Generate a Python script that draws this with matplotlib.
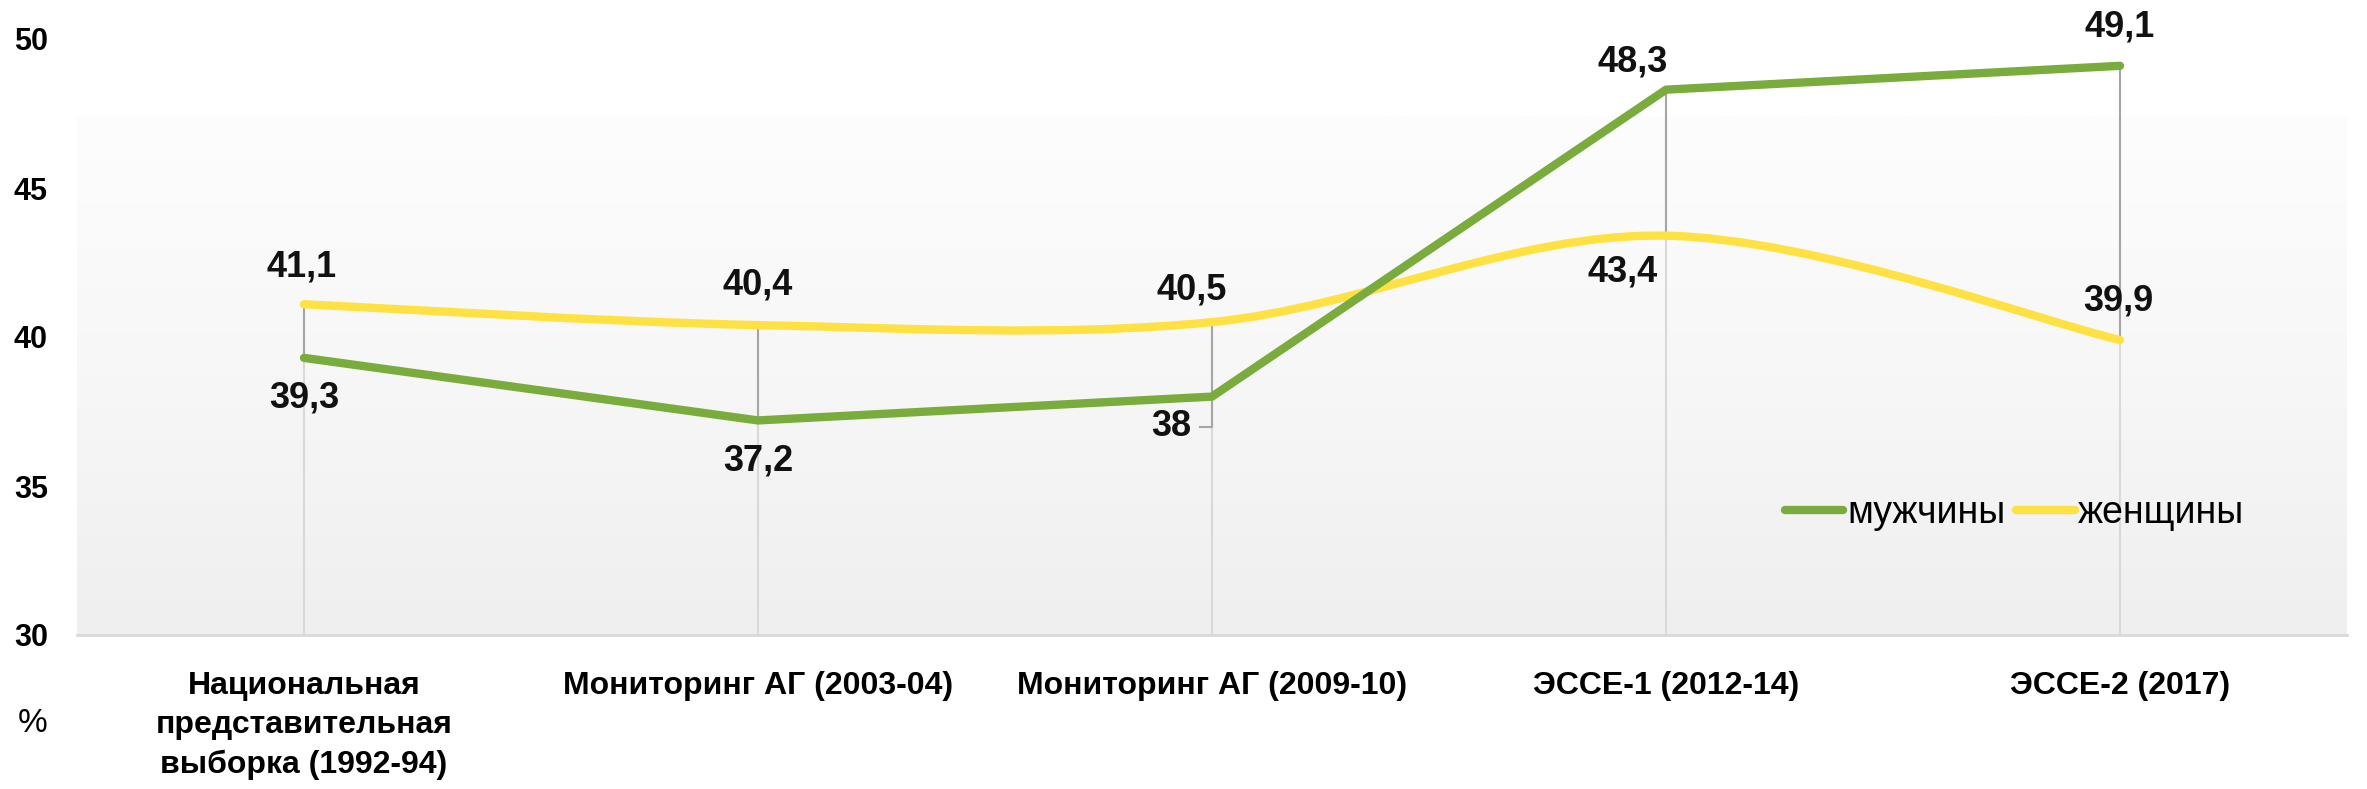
import numpy as np
import matplotlib
matplotlib.use("Agg")
import matplotlib.pyplot as plt
from matplotlib.path import Path
from matplotlib.patches import PathPatch
from matplotlib.lines import Line2D
from matplotlib.colors import LinearSegmentedColormap

plt.rcParams['font.family'] = ['Liberation Sans', 'DejaVu Sans']

# ---- data ----
categories = ["Национальная\nпредставительная\nвыборка (1992-94)",
              "Мониторинг АГ (2003-04)",
              "Мониторинг АГ (2009-10)",
              "ЭССЕ-1 (2012-14)",
              "ЭССЕ-2 (2017)"]
men = [39.3, 37.2, 38.0, 48.3, 49.1]
women = [41.1, 40.4, 40.5, 43.4, 39.9]
men_labels = ["39,3", "37,2", "38", "48,3", "49,1"]
women_labels = ["41,1", "40,4", "40,5", "43,4", "39,9"]
series_names = ["мужчины", "женщины"]
yticks = [30, 35, 40, 45, 50]

GREEN = "#79AB3D"
YELLOW = "#FFE144"

W, H = 2367, 789
fig = plt.figure(figsize=(W / 100, H / 100), dpi=100)
L, R, B, T = 77, 2347, 635, 39
ax = fig.add_axes([L / W, 1 - B / H, (R - L) / W, (B - T) / H])
ax.set_xlim(-0.5, 4.5)
ax.set_ylim(30, 50)

# gradient plot-area fill
grad = np.linspace(0, 1, 256).reshape(-1, 1)
cmap = LinearSegmentedColormap.from_list("g", ["#fdfdfd", "#f7f7f7", "#efefef"])
ax.imshow(grad, extent=[-0.5, 4.5, 30, 47.4], aspect='auto',
          cmap=cmap, vmin=0, vmax=1, origin='upper', zorder=0)

for s in ['top', 'right', 'left']:
    ax.spines[s].set_visible(False)
ax.spines['bottom'].set_color('#d9d9d9')
ax.spines['bottom'].set_linewidth(2)

x = np.arange(len(categories))
hi = np.maximum(men, women)
lo = np.minimum(men, women)
# drop lines & high-low lines
ax.vlines(x, 30, hi, color='#d9d9d9', lw=1.5, zorder=1)
ax.vlines(x, lo, hi, color='#a6a6a6', lw=1.5, zorder=1.5)

# men: straight
ax.plot(x, men, color=GREEN, lw=6, solid_capstyle='round', solid_joinstyle='round', zorder=3)

# women: smoothed (Catmull-Rom bezier through the points)
pts = np.column_stack([x, women]).astype(float)
verts = [tuple(pts[0])]
codes = [Path.MOVETO]
n = len(pts)
for i in range(n - 1):
    p0 = pts[i - 1] if i > 0 else pts[i]
    p1 = pts[i]
    p2 = pts[i + 1]
    p3 = pts[i + 2] if i + 2 < n else pts[i + 1]
    c1 = p1 + (p2 - p0) / 6.0
    c2 = p2 - (p3 - p1) / 6.0
    verts += [tuple(c1), tuple(c2), tuple(p2)]
    codes += [Path.CURVE4] * 3
patch = PathPatch(Path(verts, codes), facecolor='none', edgecolor=YELLOW, lw=6,
                  capstyle='round', joinstyle='round', zorder=2.5)
ax.add_patch(patch)

# data labels (offsets in pixels)
lab_kw = dict(textcoords='offset pixels', fontsize=26, fontweight='bold',
              ha='center', va='center', color='#111111', zorder=5, annotation_clip=False)
women_off = [(-2, 37), (0, 40), (-20, 32), (-43, -36), (-2, 39)]
men_off = [(0, -40), (0, -41), (-41, -30), (-33, 28), (0, 39)]
for i in range(n):
    ax.annotate(women_labels[i], (x[i], women[i]), xytext=women_off[i], **lab_kw)
for i in range(n):
    ax.annotate(men_labels[i], (x[i], men[i]), xytext=men_off[i], **lab_kw)
# leader line for "38"
p = ax.transData.transform((x[2], men[2]))
inv = ax.transData.inverted()
a = inv.transform((p[0], p[1] - 30))
b = inv.transform((p[0] - 12, p[1] - 30))
ax.plot([x[2], x[2], b[0]], [men[2], a[1], b[1]], color='#a6a6a6', lw=1.5, zorder=1.6)

# axes ticks
ax.set_yticks(yticks)
ax.set_yticklabels([str(v) for v in yticks], fontsize=22, fontweight='bold')
ax.set_xticks(x)
ax.set_xticklabels(categories, fontsize=23, fontweight='bold', linespacing=1.4)
ax.tick_params(axis='y', length=0, pad=21)
ax.tick_params(axis='x', length=0, pad=26)

fig.text(33 / W, 1 - 723 / H, "%", fontsize=24, ha='center', va='center')

# legend
handles = [Line2D([], [], color=GREEN, lw=6, solid_capstyle='round'),
           Line2D([], [], color=YELLOW, lw=6, solid_capstyle='round')]
ax.legend(handles, series_names, loc='center left',
          bbox_to_anchor=((1785 - L) / (R - L), (B - 513) / (B - T)),
          ncol=2, frameon=False, fontsize=27, handlelength=1.55,
          handletextpad=0.1, columnspacing=0.3, borderpad=0, borderaxespad=0)

fig.savefig("out.png", dpi=100)
